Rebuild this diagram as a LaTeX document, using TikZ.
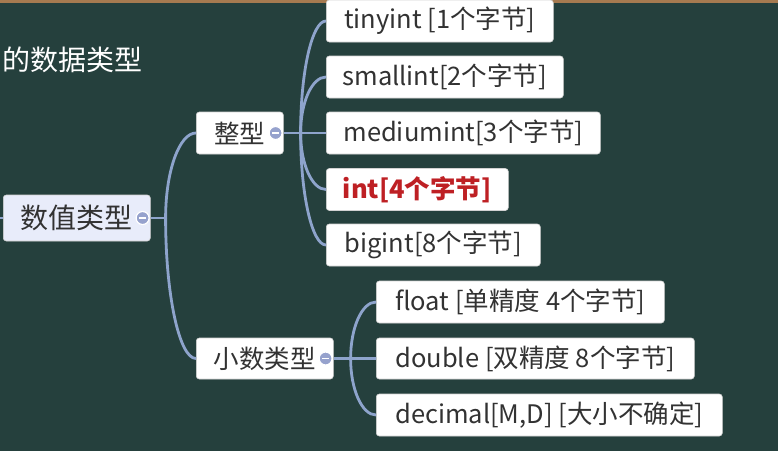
\documentclass[tikz,border=0pt]{standalone}
\usepackage{fontspec}
\usetikzlibrary{calc}
\setmainfont{Noto Sans CJK SC}
\definecolor{tafel}{RGB}{37,64,61}
\definecolor{rahmen}{RGB}{166,122,80}
\definecolor{linie}{RGB}{142,164,204}
\definecolor{knopf}{RGB}{150,162,205}
\definecolor{wurzel}{RGB}{232,236,250}
\definecolor{schrift}{RGB}{50,50,50}
\definecolor{rot}{RGB}{190,32,36}

\begin{document}
\begin{tikzpicture}[x=1pt,y=-1pt,
    box/.style={draw=gray!35, line width=0.6pt, fill=white, rounded corners=3pt,
      anchor=west, minimum height=42pt, inner sep=0pt, text=schrift,
      font=\fontsize{25.5}{29}\selectfont},
    link/.style={draw=linie, line width=2.8pt},
    knob/.style={fill=knopf, draw=white, line width=1.2pt}]

  % Tafel
  \fill[tafel] (0,0) rectangle (778,451);
  \fill[rahmen] (0,0) rectangle (778,3);
  \useasboundingbox (0,0) rectangle (778,451);

  % Titel
  \node[anchor=west, inner sep=0pt, text=white, font=\fontsize{28}{31}\selectfont] (titel) at (2,60) {的数据类型};

  % Wurzel und Zweige
  \node[box, fill=wurzel, minimum width=147pt, minimum height=46pt,
    font=\fontsize{28}{31}\selectfont] (num) at (3,218) {数值类型};
  \node[box, minimum width=87pt] (zheng) at (196,133) {整型};
  \node[box, minimum width=137pt, minimum height=41pt] (xiao) at (196,358.5) {小数类型};

  % Ganzzahlen
  \node[box, minimum width=227pt] (tiny) at (326,21) {tinyint [1个字节]};
  \node[box, minimum width=237pt] (small) at (326,77) {smallint[2个字节]};
  \node[box, minimum width=274pt] (medium) at (326,133) {mediumint[3个字节]};
  \node[box, minimum width=182pt, text=rot, font=\fontsize{25.5}{29}\selectfont\bfseries] (int) at (326,189.5) {int[4个字节]};
  \node[box, minimum width=214pt] (big) at (326,245) {bigint[8个字节]};

  % Dezimalzahlen
  \node[box, minimum width=288pt] (float) at (376,302) {float [单精度 4个字节]};
  \node[box, minimum width=318pt, minimum height=41pt] (double) at (376,358.5) {double [双精度 8个字节]};
  \node[box, minimum width=346pt] (decimal) at (376,415) {decimal[M,D] [大小不确定]};

  % Verbindungen
  \coordinate (links) at (0,218);
  \coordinate (nfork) at ([xshift=15pt]num.east);
  \coordinate (zfork) at ([xshift=17pt]zheng.east);
  \coordinate (xfork) at ([xshift=17pt]xiao.east);
  \draw[link] (links) -- (num.west);
  \draw[link] (num.east) -- (nfork);
  \draw[link] (zheng.east) -- (zfork);
  \draw[link] (xiao.east) -- (xfork);
  \foreach \f/\k in {nfork/zheng,nfork/xiao,
      zfork/tiny,zfork/small,zfork/medium,zfork/int,zfork/big,
      xfork/float,xfork/double,xfork/decimal}
    \draw[link] (\f) .. controls ($(\f)!.55!(\f |- \k.west)$)
      and ($(\k.west)!.55!(\f |- \k.west)$) .. (\k.west);

  % Knoepfe zum Einklappen
  \foreach \k in {num,zheng,xiao} {
    \filldraw[knob] ([xshift=-8pt]\k.east) circle (6.5pt);
    \draw[white, line width=1.6pt] ([xshift=-11.5pt]\k.east) -- ([xshift=-4.5pt]\k.east);
  }
\end{tikzpicture}
\end{document}
